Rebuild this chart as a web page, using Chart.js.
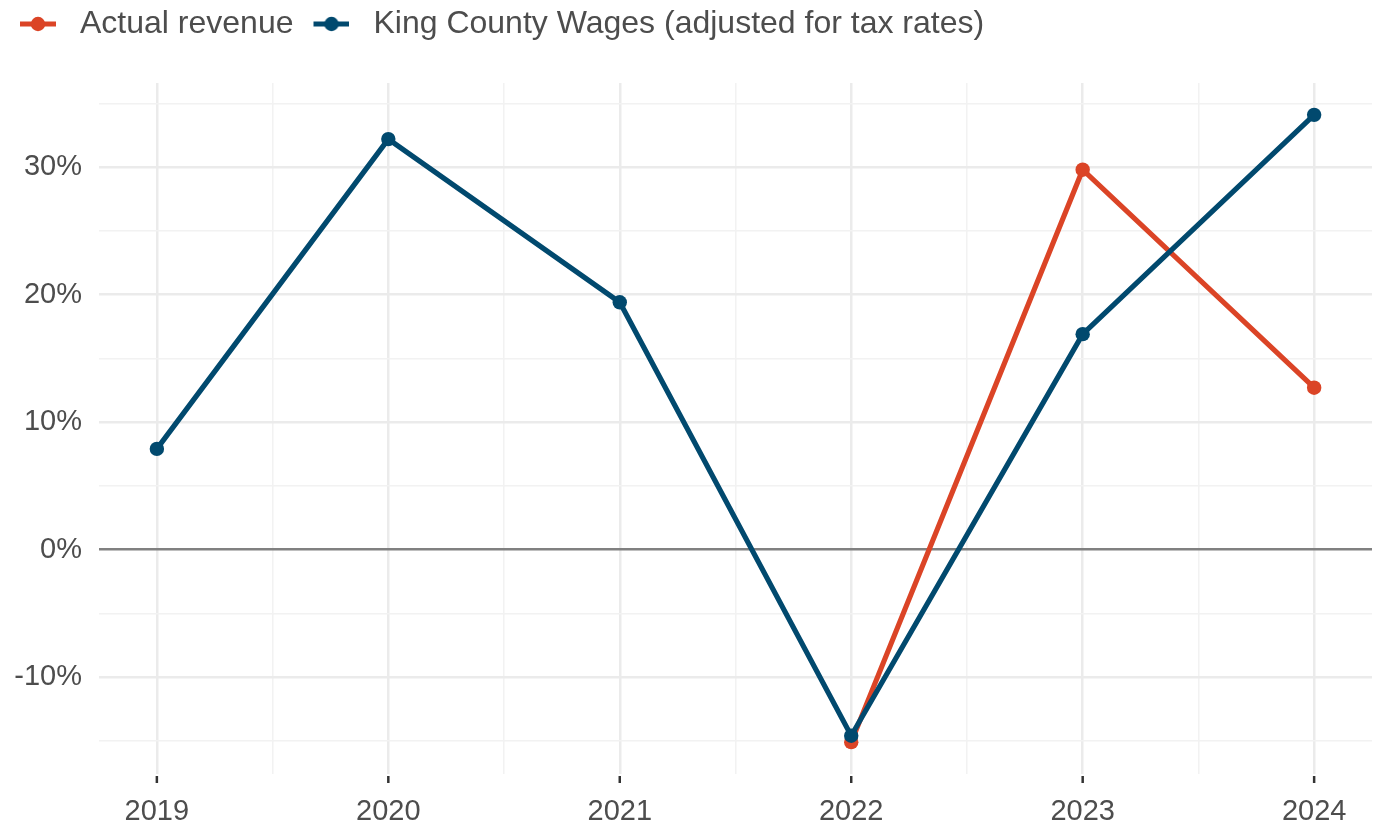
<!DOCTYPE html>
<html>
<head>
<meta charset="utf-8">
<script src="https://cdn.jsdelivr.net/npm/chart.js@4.4.1/dist/chart.umd.min.js"></script>
<style>
  html, body { margin: 0; padding: 0; background: #ffffff; }
  #wrap { width: 1380px; height: 825px; }
</style>
</head>
<body>
<div id="wrap"><canvas id="c" width="1380" height="825"></canvas></div>
<script>
// ---- data ----
const years = ['2019', '2020', '2021', '2022', '2023', '2024'];
const actualRevenue = [null, null, null, -15.1, 29.8, 12.7];
const kingCountyWages = [7.9, 32.2, 19.4, -14.6, 16.9, 34.1];
const seriesNames = ['Actual revenue', 'King County Wages (adjusted for tax rates)'];
const yTickValues = [-15, -10, -5, 0, 5, 10, 15, 20, 25, 30, 35];
const yLabelValues = [-10, 0, 10, 20, 30];

// ---- styles ----
const RED = '#DB4426';
const BLUE = '#01496E';
const TEXT = '#4d4d4d';
const FONT = "'Liberation Sans', Arial, Helvetica, sans-serif";
const LINE_W = 5.2;
const PT_R = 7.2;

function legendMarker(color) {
  const cv = document.createElement('canvas');
  cv.width = 40; cv.height = 18;
  const g = cv.getContext('2d');
  g.strokeStyle = color; g.lineWidth = LINE_W;
  g.beginPath(); g.moveTo(4, 9); g.lineTo(40, 9); g.stroke();
  g.fillStyle = color;
  g.beginPath(); g.arc(22, 9, PT_R, 0, Math.PI * 2); g.fill();
  return cv;
}
const markers = [legendMarker(RED), legendMarker(BLUE)];

const toPoints = arr => arr.map((v, i) => ({ x: i, y: v }));

const legendHeightPlugin = {
  id: 'legendHeight',
  beforeLayout(chart) {
    const lg = chart.legend;
    if (lg && !lg._patched) {
      const f = lg.fit;
      lg.fit = function () { f.call(this); this.height = 83; };
      lg._patched = true;
    }
  }
};

// short tick marks below the plot, at each year, placed via the x scale
const yearTicksPlugin = {
  id: 'yearTicks',
  afterDraw(chart) {
    const xs = chart.scales.x;
    const ctx = chart.ctx;
    const b = chart.chartArea.bottom;
    ctx.save();
    ctx.strokeStyle = '#333333';
    ctx.lineWidth = 2.5;
    years.forEach((y, i) => {
      const px = xs.getPixelForValue(i);
      ctx.beginPath();
      ctx.moveTo(px, b + 2);
      ctx.lineTo(px, b + 9);
      ctx.stroke();
    });
    ctx.restore();
  }
};

new Chart(document.getElementById('c'), {
  type: 'line',
  data: {
    datasets: [
      {
        label: seriesNames[0],
        data: toPoints(actualRevenue),
        borderColor: RED, backgroundColor: RED,
        borderWidth: LINE_W, pointRadius: PT_R, pointBorderWidth: 0,
        pointBackgroundColor: RED, spanGaps: false, tension: 0, order: 2
      },
      {
        label: seriesNames[1],
        data: toPoints(kingCountyWages),
        borderColor: BLUE, backgroundColor: BLUE,
        borderWidth: LINE_W, pointRadius: PT_R, pointBorderWidth: 0,
        pointBackgroundColor: BLUE, spanGaps: false, tension: 0, order: 1
      }
    ]
  },
  options: {
    responsive: false,
    animation: false,
    devicePixelRatio: 1,
    layout: { padding: { left: 0, right: 8, top: 0, bottom: 0 } },
    plugins: {
      tooltip: { enabled: false },
      legend: {
        position: 'top',
        align: 'start',
        labels: {
          usePointStyle: true,
          pointStyleWidth: 56,
          padding: 8,
          color: TEXT,
          font: { family: FONT, size: 32 },
          sort: (a, b) => a.datasetIndex - b.datasetIndex,
          generateLabels(chart) {
            const items = Chart.defaults.plugins.legend.labels.generateLabels(chart);
            items.forEach(it => { it.pointStyle = markers[it.datasetIndex]; });
            return items;
          }
        }
      }
    },
    scales: {
      x: {
        type: 'linear',
        min: -0.25,
        max: 5.25,
        afterBuildTicks(s) {
          const t = [];
          for (let i = 0; i < years.length; i++) {
            t.push({ value: i });
            if (i < years.length - 1) t.push({ value: i + 0.5 });
          }
          s.ticks = t;
        },
        afterFit(s) { s.height = 51; },
        border: { display: false },
        grid: {
          color: c => (Number.isInteger(c.tick.value) ? '#ebebeb' : '#f2f2f2'),
          lineWidth: c => (Number.isInteger(c.tick.value) ? 2.5 : 1.5),
          drawTicks: true,
          tickLength: 9,
          tickColor: 'rgba(0,0,0,0)'
        },
        ticks: {
          autoSkip: false,
          maxRotation: 0,
          padding: 12,
          color: TEXT,
          font: { family: FONT, size: 29 },
          callback: v => (Number.isInteger(v) ? years[v] : '')
        }
      },
      y: {
        type: 'linear',
        min: -17.6,
        max: 36.6,
        afterBuildTicks(s) { s.ticks = yTickValues.map(v => ({ value: v })); },
        afterFit(s) { s.width = 99; },
        border: { display: false },
        grid: {
          drawTicks: false,
          color: c => (c.tick.value === 0 ? '#808080' : (yLabelValues.includes(c.tick.value) ? '#ebebeb' : '#f2f2f2')),
          lineWidth: c => (c.tick.value === 0 ? 2.5 : (yLabelValues.includes(c.tick.value) ? 2.5 : 1.5))
        },
        ticks: {
          autoSkip: false,
          padding: 17,
          color: TEXT,
          font: { family: FONT, size: 29 },
          callback: v => (yLabelValues.includes(v) ? v + '%' : '')
        }
      }
    }
  },
  plugins: [legendHeightPlugin, yearTicksPlugin]
});
</script>
</body>
</html>
